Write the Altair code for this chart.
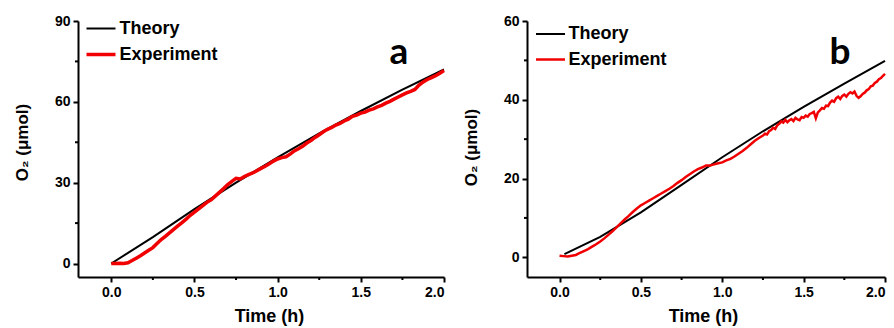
import altair as alt
import pandas as pd

# ---- data -------------------------------------------------------------
series_names = ["Theory", "Experiment"]
series_colors = ["#000000", "#f00000"]

time_theory = [0.0, 0.25, 0.5, 0.75, 1.0, 1.25, 1.5, 1.75, 2.0]
o2_theory_a = [0.0, 9.8, 20.2, 30.0, 39.4, 48.3, 56.6, 64.5, 72.0]

time_theory_b = [0.03, 0.25, 0.5, 0.75, 1.0, 1.25, 1.5, 1.75, 2.0]
o2_theory_b = [0.8, 5.2, 11.4, 18.4, 25.4, 32.0, 38.2, 44.1, 49.9]

# experiment (a): sampled every 0.025 h
time_exp_a = [
    0.000, 0.025, 0.050, 0.075, 0.100, 0.125, 0.150, 0.175, 0.200, 0.225,
    0.250, 0.275, 0.300, 0.325, 0.350, 0.375, 0.400, 0.425, 0.450, 0.475,
    0.500, 0.525, 0.550, 0.575, 0.600, 0.625, 0.650, 0.675, 0.700, 0.725,
    0.750, 0.775, 0.800, 0.825, 0.850, 0.875, 0.900, 0.925, 0.950, 0.975,
    1.000, 1.025, 1.050, 1.075, 1.100, 1.125, 1.150, 1.175, 1.200, 1.225,
    1.250, 1.275, 1.300, 1.325, 1.350, 1.375, 1.400, 1.425, 1.450, 1.475,
    1.500, 1.525, 1.550, 1.575, 1.600, 1.625, 1.650, 1.675, 1.700, 1.725,
    1.750, 1.775, 1.800, 1.825, 1.850, 1.875, 1.900, 1.925, 1.950, 1.975,
    2.000,
]
o2_exp_a = [
    0.0, 0.0, 0.1, 0.0, 0.3, 1.1, 2.0, 2.9, 3.9, 4.9,
    5.9, 7.4, 8.9, 10.1, 11.4, 12.7, 14.0, 15.2, 16.5, 17.9,
    19.1, 20.3, 21.5, 22.7, 23.6, 25.0, 26.4, 27.8, 29.3, 30.5,
    31.6, 31.4, 32.3, 33.0, 33.6, 34.4, 35.3, 36.1, 37.0, 38.0,
    38.8, 39.3, 39.6, 40.6, 41.8, 42.6, 43.5, 44.7, 45.6, 46.8,
    47.8, 48.9, 49.8, 50.5, 51.4, 52.0, 52.9, 53.6, 54.6, 55.1,
    55.8, 56.2, 56.9, 57.4, 58.1, 58.7, 59.5, 60.2, 61.0, 61.8,
    62.6, 63.3, 63.9, 64.6, 66.2, 67.4, 68.3, 69.0, 69.7, 70.6,
    71.6,
]

# experiment (b): every 0.025 h up to 1.225 h, then every 0.0125 h
time_exp_b = [
    0.000, 0.025, 0.050, 0.075, 0.100, 0.125, 0.150, 0.175, 0.200, 0.225,
    0.250, 0.275, 0.300, 0.325, 0.350, 0.375, 0.400, 0.425, 0.450, 0.475,
    0.500, 0.525, 0.550, 0.575, 0.600, 0.625, 0.650, 0.675, 0.700, 0.725,
    0.750, 0.775, 0.800, 0.825, 0.850, 0.875, 0.900, 0.925, 0.950, 0.975,
    1.000, 1.025, 1.050, 1.075, 1.100, 1.125, 1.150, 1.175, 1.200, 1.225,
    1.2500, 1.2625, 1.2750, 1.2875, 1.3000, 1.3125, 1.3250, 1.3375, 1.3500, 1.3625,
    1.3750, 1.3875, 1.4000, 1.4125, 1.4250, 1.4375, 1.4500, 1.4625, 1.4750, 1.4875,
    1.5000, 1.5125, 1.5250, 1.5375, 1.5500, 1.5625, 1.5750, 1.5875, 1.6000, 1.6125,
    1.6250, 1.6375, 1.6500, 1.6625, 1.6750, 1.6875, 1.7000, 1.7125, 1.7250, 1.7375,
    1.7500, 1.7625, 1.7750, 1.7875, 1.8000, 1.8125, 1.8250, 1.8375, 1.8500, 1.8625,
    1.8750, 1.8875, 1.9000, 1.9125, 1.9250, 1.9375, 1.9500, 1.9625, 1.9750, 1.9875,
    2.0000,
]
o2_exp_b = [
    0.4, 0.3, 0.2, 0.4, 0.6, 1.1, 1.6, 2.1, 2.7, 3.3,
    4.0, 4.8, 5.7, 6.6, 7.6, 8.6, 9.6, 10.5, 11.5, 12.4,
    13.2, 13.8, 14.4, 15.0, 15.6, 16.2, 16.8, 17.4, 18.1, 18.9,
    19.6, 20.4, 21.1, 21.8, 22.4, 22.8, 23.3, 23.3, 23.6, 23.9,
    24.1, 24.6, 25.0, 25.6, 26.3, 27.0, 27.8, 28.7, 29.6, 30.3,
    30.9, 31.4, 31.2, 32.0, 32.3, 32.9, 32.6, 33.5, 33.9, 34.5,
    34.2, 34.9, 34.3, 34.8, 35.1, 34.6, 35.4, 35.0, 34.8, 35.6,
    35.4, 36.0, 35.7, 36.4, 36.6, 36.9, 35.3, 36.8, 37.3, 37.9,
    37.7, 38.5, 38.4, 39.3, 39.8, 39.5, 40.4, 40.8, 40.2, 41.0,
    41.3, 40.8, 41.5, 41.9, 41.6, 42.1, 41.0, 40.5, 40.9, 41.5,
    41.8, 42.4, 42.7, 43.4, 43.6, 44.3, 44.6, 45.2, 45.5, 46.1,
    46.6,
]

x_major = [0.0, 0.5, 1.0, 1.5, 2.0]
x_minor = [0.25, 0.75, 1.25, 1.75]
y_major_a = [0, 30, 60, 90]
y_minor_a = [15, 45, 75]
y_major_b = [0, 20, 40, 60]
y_minor_b = [10, 30, 50]

# ---- styling ----------------------------------------------------------
FONT = "Liberation Sans"
H = 256


def panel(t_th, y_th, t_exp, y_exp, y_major, y_minor, y_max, label, width,
          label_x, legend_x, legend_y, row_pad, exp_width, title_x, title_y):
    df = pd.concat([
        pd.DataFrame({"time": t_th, "o2": y_th, "series": "Theory"}),
        pd.DataFrame({"time": t_exp, "o2": y_exp, "series": "Experiment"}),
    ])

    x = alt.X("time:Q", scale=alt.Scale(domain=[-0.2, 2.0], nice=False, zero=False),
              axis=alt.Axis(values=x_major, format=".1f", title="Time (h)",
                            titlePadding=8, titleX=title_x))
    y = alt.Y("o2:Q", scale=alt.Scale(domain=[-5, y_max], nice=False, zero=False),
              axis=alt.Axis(values=y_major, format="d", title="O₂ (μmol)",
                            titleFontSize=17, titlePadding=23, titleY=title_y))

    lines = alt.Chart(df).mark_line(interpolate="linear").encode(
        x=x, y=y,
        color=alt.Color("series:N",
                        scale=alt.Scale(domain=series_names, range=series_colors),
                        sort=series_names,
                        legend=alt.Legend(
                            title=None, orient="none", legendX=legend_x,
                            legendY=legend_y, symbolType="stroke",
                            symbolSize=841, symbolStrokeWidth=2.5,
                            labelFont=FONT, labelFontSize=18,
                            labelFontWeight="bold", labelColor="black",
                            labelOffset=2, rowPadding=row_pad)),
        strokeWidth=alt.StrokeWidth("series:N",
                                    scale=alt.Scale(domain=series_names,
                                                    range=[2, exp_width]),
                                    legend=None),
        detail="series:N",
    )

    minor_y = alt.Chart(pd.DataFrame({"o2": y_minor})).mark_rule(
        color="black", strokeWidth=2).encode(
        y=alt.Y("o2:Q"), x=alt.value(-3), x2=alt.value(0))
    minor_x = alt.Chart(pd.DataFrame({"time": x_minor})).mark_rule(
        color="black", strokeWidth=2).encode(
        x=alt.X("time:Q"), y=alt.value(H), y2=alt.value(H + 3))

    tag = alt.Chart(pd.DataFrame({"panel": [label]})).mark_text(
        font="Lato", fontSize=37, fontWeight="bold", color="black",
        align="center", baseline="alphabetic").encode(
        text="panel:N", x=alt.value(label_x), y=alt.value(42.5))

    return alt.layer(lines, minor_y, minor_x, tag).properties(width=width, height=H)


pa = panel(time_theory, o2_theory_a, time_exp_a, o2_exp_a, y_major_a, y_minor_a,
           90, "a", 366, 321, 6.5, -8, -4, 3.5, 191, 121)
pb = panel(time_theory_b, o2_theory_b, time_exp_b, o2_exp_b, y_major_b, y_minor_b,
           60, "b", 358, 313, 7.5, -2.5, -6, 2.5, 176, 126)

chart = alt.hconcat(pa, pb, spacing=11).resolve_scale(
    color="independent", strokeWidth="independent"
).resolve_legend(color="independent").configure_view(stroke=None).configure_axis(
    grid=False, domainColor="black", domainWidth=2, tickColor="black",
    tickWidth=2, tickSize=5, labelFont=FONT, labelFontSize=14,
    labelFontWeight="bold", labelColor="black", labelPadding=3,
    titleFont=FONT, titleFontSize=18, titleFontWeight="bold", titleColor="black",
).properties(padding={"left": 13, "top": 13, "right": 1, "bottom": 2},
             background="white")

chart.save("out.html", embed_options={"renderer": "svg", "actions": False})
